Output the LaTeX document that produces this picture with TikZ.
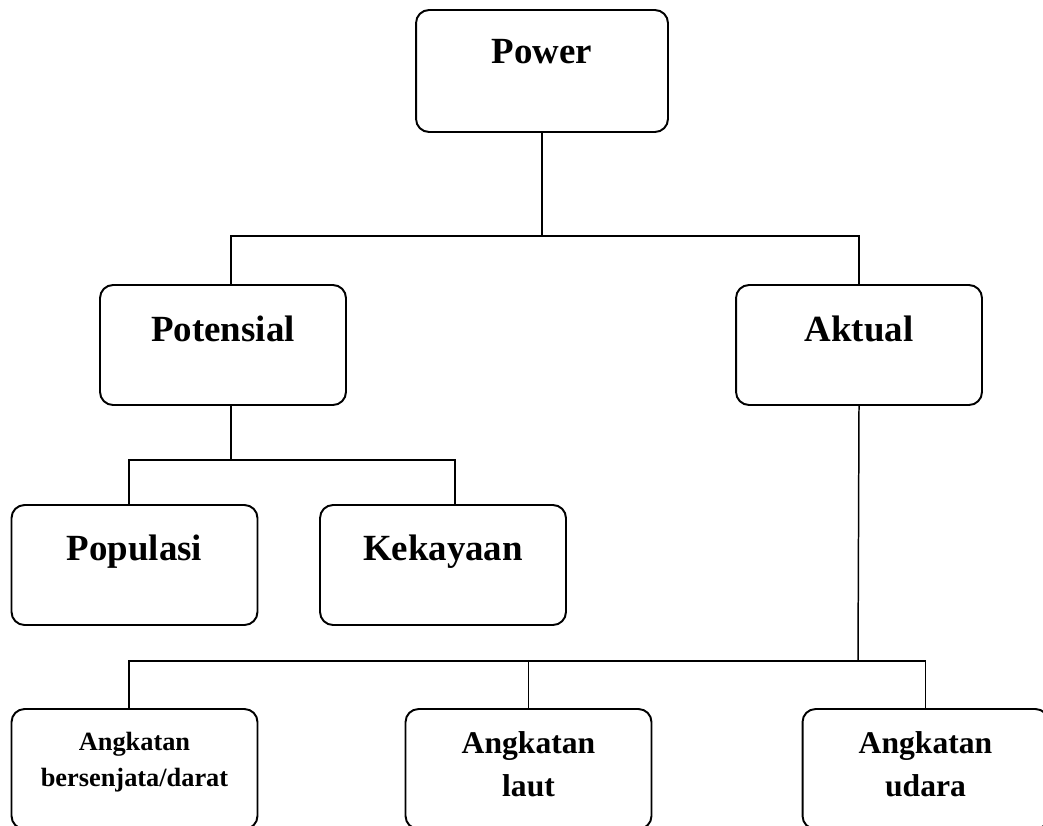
\documentclass[tikz,border=0pt]{standalone}
\usepackage{fontspec}
\setmainfont{Liberation Serif}
\usetikzlibrary{calc}
\begin{document}
\begin{tikzpicture}[x = 0.02cm, y = -0.02cm,
    box/.style = {draw, line width = 1.1pt, rounded corners = 0.26cm, minimum width = 4.92cm, minimum height = 2.4cm},
    big/.style = {anchor = base, inner sep = 0pt, font = \fontsize{21}{25}\selectfont\bfseries},
    small/.style = {anchor = base, inner sep = 0pt, align = center, font = \fontsize{18}{24}\selectfont\bfseries},
    tiny/.style = {anchor = base, inner sep = 0pt, align = center, font = \fontsize{15}{20.5}\selectfont\bfseries},
    link/.style = {line width = 0.85pt}]
        \useasboundingbox (0,0) rectangle (1043,825);
        \clip (0,0) rectangle (1043,825);
        % boxes
        \node[box, minimum width = 5.04cm, minimum height = 2.44cm] (power) at (542,71) {};
        \node[box] (potensial) at (223,345) {};
        \node[box] (aktual) at (859,345) {};
        \node[box] (populasi) at (134.5,565) {};
        \node[box] (kekayaan) at (443,565) {};
        \node[box] (darat) at (134.5,769) {};
        \node[box] (laut) at (528.5,769) {};
        \node[box] (udara) at (925.5,769) {};
        % texts
        \node[big] (powertxt) at ($(power.north)+(0,54)$) {Power};
        \node[big] (potensialtxt) at ($(potensial.north)+(0,57)$) {Potensial};
        \node[big] (aktualtxt) at ($(aktual.north)+(0,57)$) {Aktual};
        \node[big] (populasitxt) at ($(populasi.north)+(0,56)$) {Populasi};
        \node[big] (kekayaantxt) at ($(kekayaan.north)+(0,56)$) {Kekayaan};
        \node[tiny] (darattxt) at ($(darat.north)+(0,78)$) {Angkatan\\bersenjata/darat};
        \node[small] (lauttxt) at ($(laut.north)+(0,88)$) {Angkatan\\laut};
        \node[small] (udaratxt) at ($(udara.north)+(0,88)$) {Angkatan\\udara};
        % connectors
        \coordinate (busA) at (542,236);
        \coordinate (busB) at (231,460);
        \coordinate (busC) at (858,661);
        \draw[link] (power.south) -- (busA);
        \draw[link] ($(potensial.north)+(8,0)$) |- (busA) -| (aktual.north);
        \draw[link] ($(potensial.south)+(8,0)$) -- (busB);
        \draw[link] ($(populasi.north)+(-5.5,0)$) |- (busB) -| ($(kekayaan.north)+(12,0)$);
        \draw[link] (aktual.south) -- (busC);
        \draw[link] ($(darat.north)+(-5.5,0)$) |- (busC) -| (udara.north);
        \draw[link] (laut.north) -- (laut.north |- busC);
    \end{tikzpicture}
\end{document}
